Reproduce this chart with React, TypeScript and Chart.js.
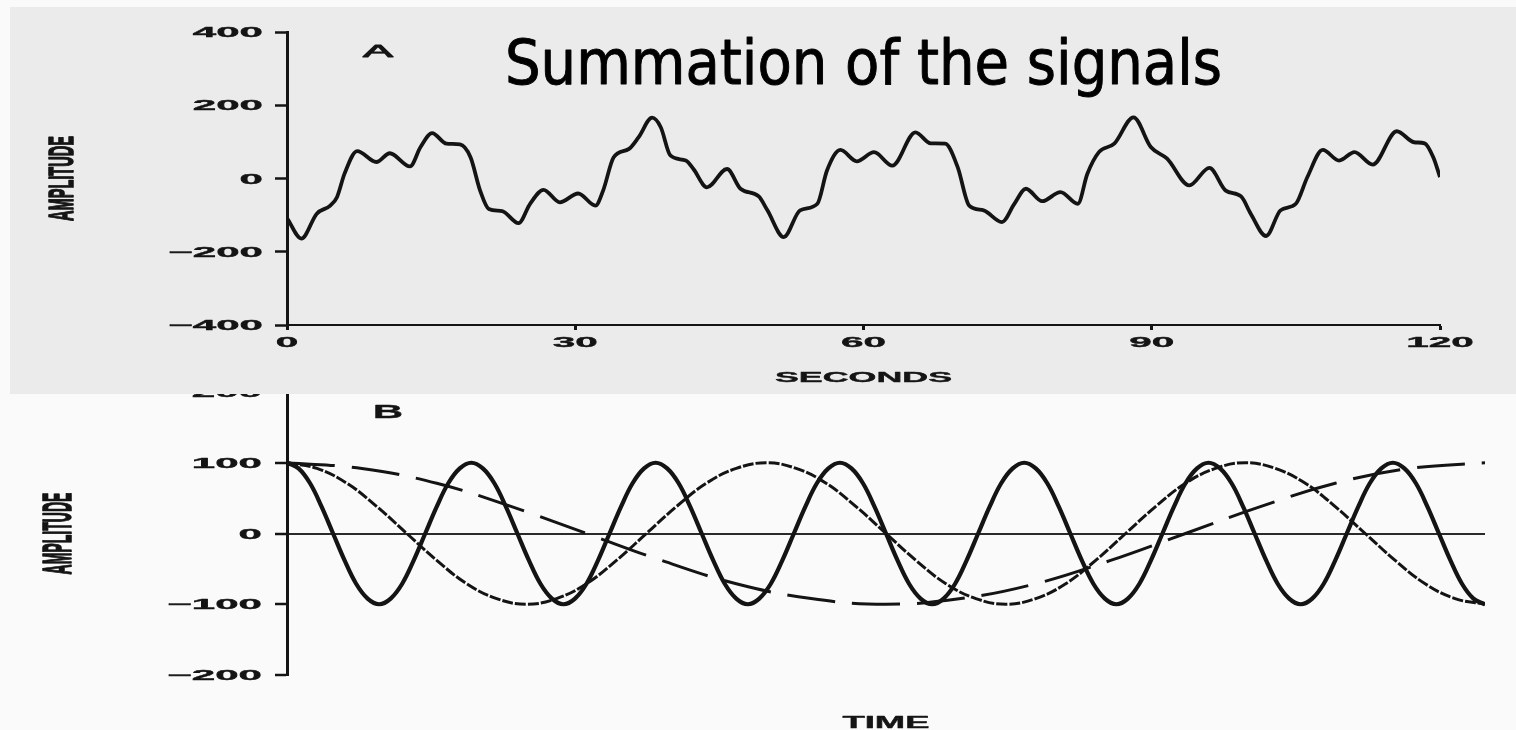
import React, { useEffect, useRef } from 'react';
import { Chart, registerables } from 'chart.js';

Chart.register(...registerables);

// Panel A: summed signal, time in seconds vs amplitude
const sumTimes = [
  0, 1.5, 3.1, 4.5, 5.2, 6.0, 7.3, 9.3, 10.7, 12.8,
  13.9, 15.1, 16.6, 18.0, 19.1, 20.1, 21.0, 22.4, 24.1, 25.3,
  26.7, 28.4, 30.3, 32.1, 32.9, 34.0, 35.6, 36.6, 38.0, 38.9,
  39.9, 41.5, 42.3, 43.7, 45.8, 47.2, 49.1, 50.0, 51.7, 53.4,
  55.2, 56.2, 57.6, 59.3, 61.1, 63.0, 65.4, 67.0, 68.5, 69.8,
  71.0, 72.5, 74.4, 75.7, 76.9, 78.6, 80.5, 82.3, 83.3, 84.5,
  86.1, 88.1, 89.9, 91.6, 93.9, 96.0, 97.7, 99.3, 100.3, 101.9,
  103.4, 105.0, 106.2, 107.8, 109.5, 111.1, 113.0, 115.5, 117.3, 118.4,
  119.3, 120.0,
];
const sumValues = [
  -108, -164, -96, -74, -51, 14, 75, 45, 69, 33,
  86, 124, 95, 93, 58, -33, -83, -89, -122, -69,
  -31, -65, -41, -74, -33, 58, 81, 113, 166, 140,
  63, 49, 26, -24, 26, -28, -49, -87, -160, -87,
  -69, 22, 78, 47, 72, 35, 126, 96, 95, 31,
  -74, -87, -119, -69, -28, -62, -37, -69, 13, 72,
  95, 167, 86, 54, -19, 29, -33, -49, -96, -157,
  -87, -69, 4, 78, 49, 72, 38, 129, 99, 96,
  58, 4,
];
const secondsTicks = [0, 30, 60, 90, 120];
const amplitudeTicksA = [-400, -200, 0, 200, 400];

// Panel B: the three component waves (time axis unlabelled)
const fastTimes = [
  0, 1.25, 2.5, 3.75, 5, 6.25, 7.5, 8.75, 10, 11.25, 12.5, 13.75, 15, 16.25, 17.5, 18.75,
  20, 21.25, 22.5, 23.75, 25, 26.25, 27.5, 28.75, 30, 31.25, 32.5, 33.75, 35, 36.25, 37.5, 38.75,
  40, 41.25, 42.5, 43.75, 45, 46.25, 47.5, 48.75, 50, 51.25, 52.5, 53.75, 55, 56.25, 57.5, 58.75,
  60, 61.25, 62.5, 63.75, 65, 66.25, 67.5, 68.75, 70, 71.25, 72.5, 73.75, 75, 76.25, 77.5, 78.75,
  80, 81.25, 82.5, 83.75, 85, 86.25, 87.5, 88.75, 90, 91.25, 92.5, 93.75, 95, 96.25, 97.5, 98.75,
  100, 101.25, 102.5, 103.75, 105, 106.25, 107.5, 108.75, 110, 111.25, 112.5, 113.75, 115, 116.25, 117.5, 118.75,
  120, 121.25, 122.5, 123.75, 125, 126.25, 127.5, 128.75, 130,
];
const fastValues = [
  100, 92, 71, 38, 0, -38, -71, -92, -100, -92, -71, -38, 0, 38, 71, 92,
  100, 92, 71, 38, 0, -38, -71, -92, -100, -92, -71, -38, 0, 38, 71, 92,
  100, 92, 71, 38, 0, -38, -71, -92, -100, -92, -71, -38, 0, 38, 71, 92,
  100, 92, 71, 38, 0, -38, -71, -92, -100, -92, -71, -38, 0, 38, 71, 92,
  100, 92, 71, 38, 0, -38, -71, -92, -100, -92, -71, -38, 0, 38, 71, 92,
  100, 92, 71, 38, 0, -38, -71, -92, -100, -92, -71, -38, 0, 38, 71, 92,
  100, 92, 71, 38, 0, -38, -71, -92, -100,
];
const mediumTimes = [
  0, 3.25, 6.5, 9.75, 13, 16.25, 19.5, 22.75, 26, 29.25, 32.5, 35.75, 39, 42.25, 45.5, 48.75,
  52, 55.25, 58.5, 61.75, 65, 68.25, 71.5, 74.75, 78, 81.25, 84.5, 87.75, 91, 94.25, 97.5, 100.75,
  104, 107.25, 110.5, 113.75, 117, 120.25, 123.5, 126.75, 130,
];
const mediumValues = [
  100, 92, 71, 38, 0, -38, -71, -92, -100, -92, -71, -38, 0, 38, 71, 92,
  100, 92, 71, 38, 0, -38, -71, -92, -100, -92, -71, -38, 0, 38, 71, 92,
  100, 92, 71, 38, 0, -38, -71, -92, -100,
];
const slowTimes = [
  0, 8.125, 16.25, 24.375, 32.5, 40.625, 48.75, 56.875, 65,
  73.125, 81.25, 89.375, 97.5, 105.625, 113.75, 121.875, 130,
];
const slowValues = [100, 92, 71, 38, 0, -38, -71, -92, -100, -92, -71, -38, 0, 38, 71, 92, 100];
const amplitudeTicksB = [-200, -100, 0, 100, 200];

const INK = '#141414';
const LABEL_FONT = '"Liberation Sans", Arial, sans-serif';

type TextOpts = {
  size: number;
  weight?: string;
  family?: string;
  sx?: number;
  width?: number;
  align?: 'left' | 'center' | 'right';
  rotate?: boolean;
  color?: string;
  cap?: number;
  stroke?: number;
};

// Draws text centred vertically on y, with optional horizontal stretch / fitted width
function drawText(ctx: CanvasRenderingContext2D, text: string, x: number, y: number, o: TextOpts) {
  ctx.save();
  ctx.font = `${o.weight ?? 'bold'} ${o.size}px ${o.family ?? LABEL_FONT}`;
  ctx.fillStyle = o.color ?? INK;
  ctx.textAlign = 'left';
  ctx.textBaseline = 'alphabetic';
  const raw = ctx.measureText(text).width;
  const sx = o.width ? o.width / raw : o.sx ?? 1;
  const w = raw * sx;
  const capH = o.size * (o.cap ?? 0.716);
  ctx.translate(x, y);
  if (o.rotate) ctx.rotate(-Math.PI / 2);
  const dx = o.align === 'right' ? -w : o.align === 'left' ? 0 : -w / 2;
  ctx.translate(dx, capH / 2);
  ctx.scale(sx, 1);
  ctx.fillText(text, 0, 0);
  if (o.stroke) {
    ctx.strokeStyle = o.color ?? INK;
    ctx.lineWidth = o.stroke;
    ctx.lineJoin = 'round';
    ctx.strokeText(text, 0, 0);
  }
  ctx.restore();
}

const fmt = (v: number) => (v < 0 ? '\u2212' + Math.abs(v) : String(v));

const setTicks = (values: number[]) => (scale: any) => {
  scale.ticks = values.map((value) => ({ value }));
};

const panelAText = {
  id: 'panelAText',
  beforeDraw(chart: any) {
    const { ctx, width, height } = chart;
    ctx.save();
    ctx.fillStyle = '#ebebeb';
    ctx.fillRect(0, 0, width, height);
    ctx.restore();
  },
  afterDraw(chart: any) {
    const { ctx, chartArea: a, scales } = chart;
    const x = scales.x;
    const y = scales.y;
    y.ticks.forEach((t: any) =>
      drawText(ctx, fmt(t.value), a.left - 24, y.getPixelForValue(t.value), { size: 14.5, sx: 2.9, align: 'right', stroke: 0.4 })
    );
    x.ticks.forEach((t: any) =>
      drawText(ctx, fmt(t.value), x.getPixelForValue(t.value), a.bottom + 17, { size: 15, sx: 2.7, stroke: 0.4 })
    );
    const mid = (a.left + a.right) / 2;
    drawText(ctx, 'SECONDS', mid, a.bottom + 51, { size: 15.4, width: 177, stroke: 0.4 });
    drawText(ctx, 'AMPLITUDE', a.left - 227, (a.top + a.bottom) / 2, { size: 35, width: 85, rotate: true, stroke: 1.6 });
    drawText(ctx, 'A', a.left + 91, a.top + 19, { size: 17, weight: 'normal', width: 30, stroke: 0.8 });
    drawText(ctx, 'Summation of the signals', mid, a.top + 29.5, {
      family: '"DejaVu Sans Condensed", "DejaVu Sans", Verdana, sans-serif',
      weight: 'normal',
      size: 62,
      width: 717,
      color: '#000',
      cap: 0.729,
      stroke: 0.9,
    });
  },
};

const panelBText = {
  id: 'panelBText',
  afterDraw(chart: any) {
    const { ctx, chartArea: a, scales } = chart;
    const y = scales.y;
    y.ticks.forEach((t: any) =>
      drawText(ctx, fmt(t.value), a.left - 25, y.getPixelForValue(t.value), { size: 14.5, sx: 2.9, align: 'right', stroke: 0.4 })
    );
    const mid = (a.left + a.right) / 2;
    drawText(ctx, 'TIME', mid, a.bottom + 47, { size: 16.8, width: 87, stroke: 0.4 });
    drawText(ctx, 'AMPLITUDE', a.left - 230, y.getPixelForValue(0), { size: 40, width: 82, rotate: true, stroke: 1.6 });
    drawText(ctx, 'B', a.left + 101, a.top + 19.5, { size: 18, width: 30, stroke: 0.4 });
  },
};

const toPoints = (ts: number[], vs: number[]) => ts.map((t, i) => ({ x: t, y: vs[i] }));

export default function App() {
  const refA = useRef<HTMLCanvasElement>(null);
  const refB = useRef<HTMLCanvasElement>(null);

  useEffect(() => {
    const chartB = new Chart(refB.current as HTMLCanvasElement, {
      type: 'line',
      data: {
        datasets: [
          {
            data: toPoints(fastTimes, fastValues),
            borderColor: INK,
            borderWidth: 4.2,
            pointRadius: 0,
            tension: 0.4,
          },
          {
            data: toPoints(mediumTimes, mediumValues),
            borderColor: INK,
            borderWidth: 3,
            borderDash: [11, 2],
            pointRadius: 0,
            tension: 0.4,
          },
          {
            data: toPoints(slowTimes, slowValues),
            borderColor: INK,
            borderWidth: 3,
            borderDash: [48, 17],
            pointRadius: 0,
            tension: 0.4,
          },
        ],
      },
      options: {
        responsive: false,
        animation: false,
        devicePixelRatio: 1,
        events: [],
        layout: { padding: { left: 275, top: 392, right: 31, bottom: 55 } },
        plugins: { legend: { display: false }, tooltip: { enabled: false }, title: { display: false } },
        scales: {
          x: { type: 'linear', min: 0, max: 130, display: false },
          y: {
            type: 'linear',
            min: -200,
            max: 200,
            afterBuildTicks: setTicks(amplitudeTicksB),
            ticks: { display: false },
            grid: {
              display: true,
              drawOnChartArea: true,
              drawTicks: true,
              tickLength: 12,
              tickWidth: 2.5,
              tickColor: INK,
              lineWidth: 2,
              color: (c: any) => (c.tick && c.tick.value === 0 ? '#2a2a2a' : 'rgba(0,0,0,0)'),
            },
            border: { display: true, width: 3, color: INK },
          },
        },
      },
      plugins: [panelBText],
    } as any);

    const chartA = new Chart(refA.current as HTMLCanvasElement, {
      type: 'line',
      data: {
        datasets: [
          {
            data: toPoints(sumTimes, sumValues),
            borderColor: INK,
            borderWidth: 3.8,
            pointRadius: 0,
            cubicInterpolationMode: 'monotone',
            tension: 0.4,
          },
        ],
      },
      options: {
        responsive: false,
        animation: false,
        devicePixelRatio: 1,
        events: [],
        layout: { padding: { left: 265, top: 25, right: 76, bottom: 64 } },
        plugins: { legend: { display: false }, tooltip: { enabled: false }, title: { display: false } },
        scales: {
          x: {
            type: 'linear',
            min: 0,
            max: 120,
            afterBuildTicks: setTicks(secondsTicks),
            ticks: { display: false },
            grid: {
              display: true,
              drawOnChartArea: false,
              drawTicks: true,
              tickLength: 5,
              tickWidth: 3,
              tickColor: INK,
              color: INK,
            },
            border: { display: true, width: 2, color: INK },
          },
          y: {
            type: 'linear',
            min: -400,
            max: 400,
            afterBuildTicks: setTicks(amplitudeTicksA),
            ticks: { display: false },
            grid: {
              display: true,
              drawOnChartArea: false,
              drawTicks: true,
              tickLength: 12,
              tickWidth: 2.5,
              tickColor: INK,
              color: INK,
            },
            border: { display: true, width: 3, color: INK },
          },
        },
      },
      plugins: [panelAText],
    } as any);

    return () => {
      chartA.destroy();
      chartB.destroy();
    };
  }, []);

  return (
    <div
      style={{
        position: 'fixed',
        left: 0,
        top: 0,
        width: 1516,
        height: 730,
        background: '#fafafa',
        overflow: 'hidden',
      }}
    >
      <canvas ref={refB} width={1516} height={730} style={{ position: 'absolute', left: 0, top: 0, display: 'block' }} />
      <canvas ref={refA} width={1506} height={387} style={{ position: 'absolute', left: 10, top: 7, display: 'block' }} />
    </div>
  );
}
